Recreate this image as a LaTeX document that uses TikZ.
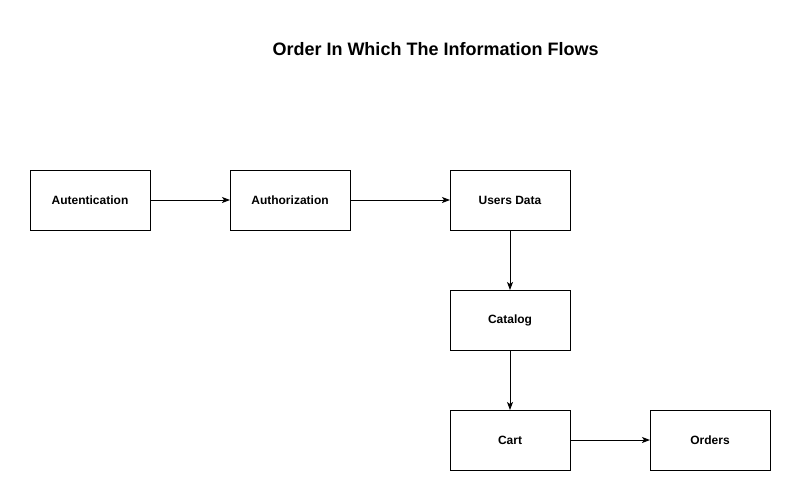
\documentclass[tikz,border=0pt]{standalone}
\usepackage{fontspec}
\setmainfont{Liberation Sans}
\usepackage{tikz}
\usetikzlibrary{arrows,arrows.meta,shapes,calc,positioning}
\tikzstyle{edge}  =[->, >={Stealth[length=8pt,width=6pt,inset=2pt]}, line width=1pt]
\tikzstyle{box}   =[rectangle, draw, minimum width=120pt,
                    minimum height=60pt, line width=1pt,
                    inner sep=0pt, outer sep=0pt,
                    font=\fontsize{12pt}{14pt}\selectfont\bfseries]
\begin{document}
\begin{tikzpicture}[x=1pt,y=-1pt]
    \useasboundingbox (0,0) rectangle (801,501);

        \begin{scope}[]
            \draw (435.5,49) node (titulo) [font=\fontsize{18pt}{21pt}\selectfont\bfseries] {Order In Which The Information Flows};
        \end{scope}

        \begin{scope}[]
            \draw (90,200) node (1) [box] {Autentication};
            \draw (290,200) node (2) [box] {Authorization};
            \draw (510,200) node (3) [box] {Users Data};
            \draw (510,320) node (4) [box] {Catalog};
            \draw (510,440) node (5) [box] {Cart};
            \draw (710,440) node (6) [box] {Orders};

            \foreach \i/\j in{1/2,2/3,3/4,4/5,5/6}
                \draw [edge] (\i) to (\j);
        \end{scope}

    \end{tikzpicture}
\end{document}
